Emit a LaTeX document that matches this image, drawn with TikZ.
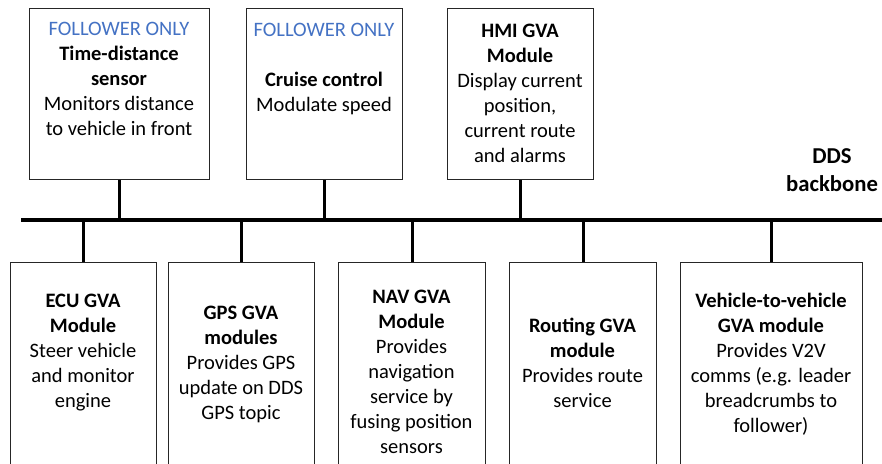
\documentclass[tikz,border=0pt]{standalone}
\usepackage{fontspec}
\setmainfont{Carlito}
\definecolor{follow}{HTML}{4472C4}
\newcommand{\bodyfont}{\fontsize{20.5}{25}\selectfont}
\newcommand{\busfont}{\fontsize{22.7}{28.5}\selectfont\bfseries}
\tikzset{
  modbox/.style={draw=black!85, line width=1.1pt, fill=white, rectangle,
    inner sep=0pt, anchor=north west},
  modtext/.style={align=center, inner sep=0pt, font=\bodyfont, anchor=north},
  tap/.style={line width=3pt, black},
  bus/.style={line width=4pt, black}
}
\begin{document}
\begin{tikzpicture}[x=1pt,y=-1pt]
\useasboundingbox (0,0) rectangle (882,463);
\clip (0,0) rectangle (882,463);

% DDS backbone
\coordinate (busL) at (21,220);
\coordinate (busR) at (884,220);
\draw[bus] (busL) -- (busR);
\node[align=center, inner sep=0pt, font=\busfont, anchor=north] (dds) at (832,163-19.95)
  {\strut DDS\\backbone};

% Modules above the bus
\node[modbox, minimum width=180pt, minimum height=171pt] (tdbox) at (29,8) {};
\node[modbox, minimum width=156pt, minimum height=171pt] (ccbox) at (246,8) {};
\node[modbox, minimum width=146pt, minimum height=171pt] (hmibox) at (447,8) {};

\node[modtext] (td) at (119,35-17.5)
  {\strut\textcolor{follow}{FOLLOWER ONLY}\\\textbf{Time-distance}\\\textbf{sensor}\\Monitors distance\\to vehicle in front};
\node[modtext] (cc) at (324,36-17.5)
  {\strut\textcolor{follow}{FOLLOWER ONLY}\\[25pt]\textbf{Cruise control}\\Modulate speed};
\node[modtext] (hmi) at (520,37-17.5)
  {\strut\textbf{HMI GVA}\\\textbf{Module}\\Display current\\position,\\current route\\and alarms};

% Modules below the bus (boxes run past the lower edge)
\node[modbox, minimum width=146pt, minimum height=230pt] (ecubox) at (10,262) {};
\node[modbox, minimum width=146pt, minimum height=230pt] (gpsbox) at (168,262) {};
\node[modbox, minimum width=147pt, minimum height=230pt] (navbox) at (338,262) {};
\node[modbox, minimum width=147pt, minimum height=230pt] (rtbox) at (509,262) {};
\node[modbox, minimum width=182pt, minimum height=230pt] (v2vbox) at (680,262) {};

\node[modtext] (ecu) at (83,307-17.5)
  {\strut\textbf{ECU GVA}\\\textbf{Module}\\Steer vehicle\\and monitor\\engine};
\node[modtext] (gps) at (241,319-17.5)
  {\strut\textbf{GPS GVA}\\\textbf{modules}\\Provides GPS\\update on DDS\\GPS topic};
\node[modtext] (nav) at (411.5,303-17.5)
  {\strut\textbf{NAV GVA}\\\textbf{Module}\\Provides\\navigation\\service by\\fusing position\\sensors};
\node[modtext] (rt) at (582.5,332-17.5)
  {\strut\textbf{Routing GVA}\\\textbf{module}\\Provides route\\service};
\node[modtext] (v2v) at (771,307-17.5)
  {\strut\textbf{Vehicle-to-vehicle}\\\textbf{GVA module}\\Provides V2V\\comms (e.g. leader\\breadcrumbs to\\follower)};

% Taps onto the bus
\foreach \b in {tdbox,ccbox,hmibox}
  \draw[tap] (\b.south) -- (\b.south |- busL);
\foreach \b in {ecubox,gpsbox,navbox,rtbox,v2vbox}
  \draw[tap] (\b.north) -- (\b.north |- busL);
\end{tikzpicture}
\end{document}
